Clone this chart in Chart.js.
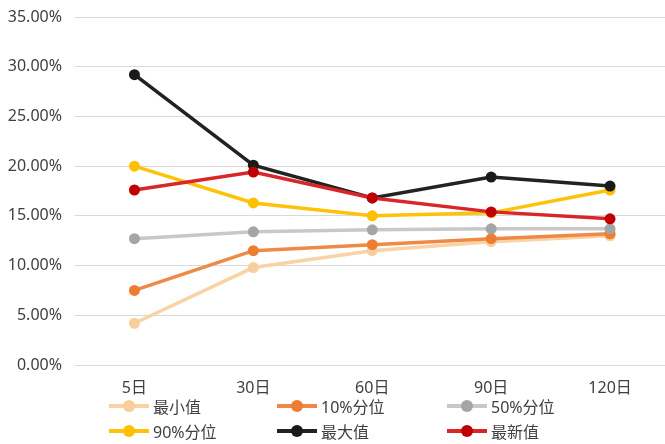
<!DOCTYPE html>
<html>
<head>
<meta charset="utf-8">
<script src="https://cdn.jsdelivr.net/npm/chart.js@4"></script>
<style>
  html, body { margin: 0; padding: 0; background: #fff; overflow: hidden; }
  #wrap { position: relative; width: 665px; height: 444px; overflow: hidden; }
  #legend { position: absolute; left: 0; top: 0; width: 665px; height: 444px; pointer-events: none;
    font-family: "Noto Sans", "Noto Sans CJK SC", sans-serif; font-size: 16px; color: #404040; }
  .item { position: absolute; display: flex; align-items: center; height: 20px; }
  .swatch { position: relative; width: 40px; height: 20px; margin-right: 4px; }
  .swatch .ln { position: absolute; left: 0; top: 8px; width: 40px; height: 4px; }
  .swatch .dot { position: absolute; left: 14px; top: 4px; width: 12px; height: 12px; border-radius: 50%; }
</style>
</head>
<body>
<div id="wrap">
  <canvas id="chart" width="675" height="444"></canvas>
  <div id="legend"></div>
</div>
<script>
// Data
const categories = ['5日', '30日', '60日', '90日', '120日'];
const seriesNames = ['最小值', '10%分位', '50%分位', '90%分位', '最大值', '最新值'];
const minValues = [4.2, 9.8, 11.5, 12.4, 13.0];
const p10Values = [7.5, 11.5, 12.1, 12.7, 13.2];
const p50Values = [12.7, 13.4, 13.6, 13.7, 13.7];
const p90Values = [20.0, 16.3, 15.0, 15.3, 17.6];
const maxValues = [29.2, 20.1, 16.8, 18.9, 18.0];
const latestValues = [17.6, 19.4, 16.8, 15.4, 14.7];
const yTicks = [0, 5, 10, 15, 20, 25, 30, 35];

const allValues = [minValues, p10Values, p50Values, p90Values, maxValues, latestValues];
const lineColors = ['#f9d3a5', '#ee8a45', '#c8c8c8', '#ffc20a', '#222222', '#d8262b'];
const dotColors = ['#f8cf9c', '#ed7d31', '#a5a5a5', '#ffc000', '#1a1a1a', '#c00000'];

const tickFont = { family: '"Noto Sans", "Noto Sans CJK SC", sans-serif', size: 16 };

const datasets = seriesNames.map((name, i) => ({
  label: name,
  data: allValues[i],
  borderColor: lineColors[i],
  backgroundColor: dotColors[i],
  pointBackgroundColor: dotColors[i],
  pointBorderColor: dotColors[i],
  pointRadius: 5.5,
  pointBorderWidth: 0,
  borderWidth: 3.5,
  tension: 0,
  fill: false,
  order: seriesNames.length - i
}));

const ctx = document.getElementById('chart').getContext('2d');
new Chart(ctx, {
  type: 'line',
  data: { labels: categories, datasets },
  options: {
    responsive: false,
    animation: false,
    layout: { padding: { top: 17, right: 0, bottom: 49, left: 0 } },
    plugins: { legend: { display: false }, tooltip: { enabled: false } },
    scales: {
      x: {
        offset: true,
        grid: { display: false },
        border: { display: false },
        ticks: { color: '#404040', padding: 6, font: tickFont },
        afterFit: (scale) => { scale.height = 30; scale.paddingLeft = 0; scale.paddingRight = 0; }
      },
      y: {
        min: 0,
        max: 35,
        afterBuildTicks: (scale) => { scale.ticks = yTicks.map(v => ({ value: v })); },
        grid: { color: '#d9d9d9', lineWidth: 1, drawTicks: false },
        border: { display: false },
        ticks: {
          color: '#404040',
          padding: 13,
          font: tickFont,
          callback: (v) => v.toFixed(2) + '%'
        },
        afterFit: (scale) => { scale.width = 75; scale.paddingTop = 0; scale.paddingBottom = 0; }
      }
    }
  }
});

// Legend (3 columns x 2 rows)
const legend = document.getElementById('legend');
const colX = [109, 277, 447];
const rowY = [396, 421];
seriesNames.forEach((name, i) => {
  const item = document.createElement('div');
  item.className = 'item';
  item.style.left = colX[i % 3] + 'px';
  item.style.top = rowY[Math.floor(i / 3)] + 'px';
  item.innerHTML = `
    <div class="swatch">
      <div class="ln" style="background:${lineColors[i]}"></div>
      <div class="dot" style="background:${dotColors[i]}"></div>
    </div>
    <span>${name}</span>
  `;
  legend.appendChild(item);
});
</script>
</body>
</html>
